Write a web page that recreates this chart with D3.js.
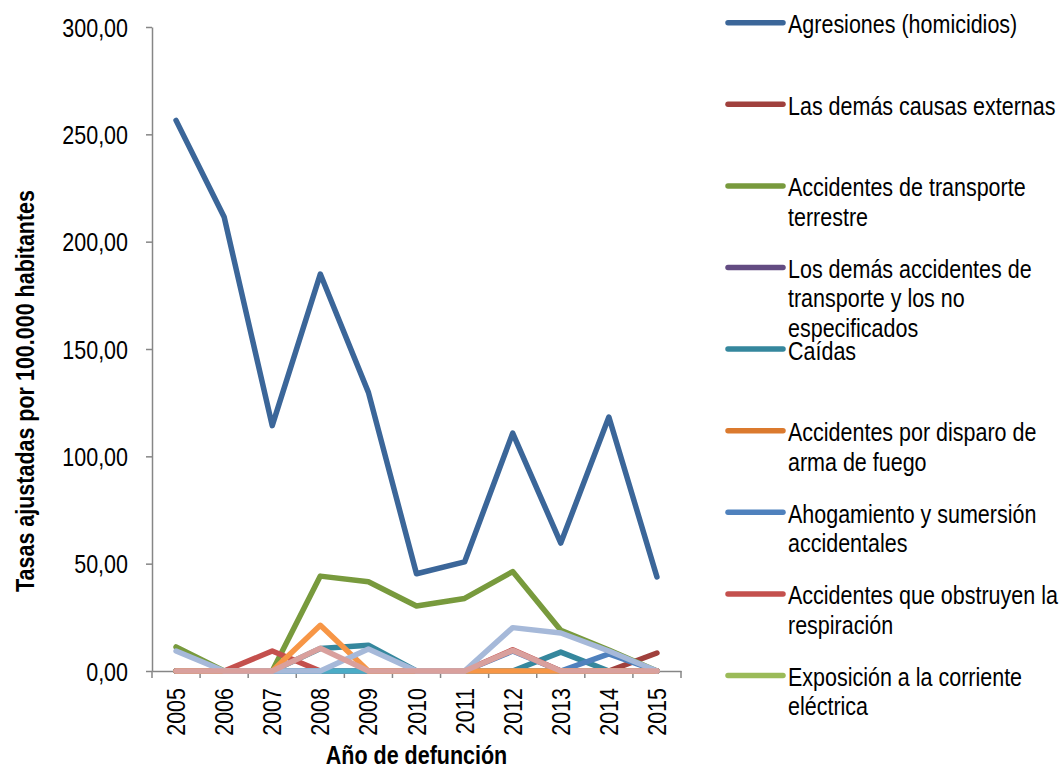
<!DOCTYPE html>
<html>
<head>
<meta charset="utf-8">
<script src="https://cdn.jsdelivr.net/npm/d3@7"></script>
<style>
  html, body { margin: 0; padding: 0; background: #ffffff; }
  svg { display: block; }
  text { font-family: "Liberation Sans", Arial, sans-serif; fill: #000; }
</style>
</head>
<body>
<script>
// ---------- DATA ----------
const years = ["2005","2006","2007","2008","2009","2010","2011","2012","2013","2014","2015"];
const yTicks = [0, 50, 100, 150, 200, 250, 300];

const seriesNames = [
  "Agresiones (homicidios)",
  "Las demás causas externas",
  "Accidentes de transporte terrestre",
  "Los demás accidentes de transporte y los no especificados",
  "Caídas",
  "Accidentes por disparo de arma de fuego",
  "Ahogamiento y sumersión accidentales",
  "Accidentes que obstruyen la respiración",
  "Exposición a la corriente eléctrica",
  "Exposición al humo, fuego y llamas",
  "Envenenamiento accidental por, y exposición a sustancias nocivas",
  "Los demás accidentes",
  "Lesiones autoinfligidas intencionalmente (suicidios)",
  "Eventos de intención no determinada"
];
// legend labels as wrapped in the reference (only the first 9 fit in the legend)
const legendLabels = [
  "Agresiones (homicidios)",
  "Las demás causas externas",
  "Accidentes de transporte\nterrestre",
  "Los demás accidentes de\ntransporte y los no\nespecificados",
  "Caídas",
  "Accidentes por disparo de\narma de fuego",
  "Ahogamiento y sumersión\naccidentales",
  "Accidentes que obstruyen la\nrespiración",
  "Exposición a la corriente\neléctrica"
];

const agresiones          = [256.5, 211.5, 114.3, 184.9, 129.8, 45.3, 50.8, 110.8, 59.6, 118.3, 43.8];
const demasCausas         = [0, 0, 0, 0, 0, 0, 0, 0, 0, 0, 8.4];
const transporteTerrestre = [11.2, 0, 0, 44.2, 41.6, 30.3, 33.8, 46.3, 19.0, 9.8, 0];
const demasTransporte     = [0, 0, 0, 0, 0, 0, 0, 0, 0, 0, 0];
const caidas              = [0, 0, 0, 10.5, 12.0, 0, 0, 0, 8.8, 0, 0];
const disparo             = [0, 0, 0, 0, 0, 0, 0, 0, 0, 0, 0];
const ahogamiento         = [0, 0, 0, 0, 0, 0, 0, 9.3, 0, 8.0, 0];
const obstruyen           = [0, 0, 9.3, 0, 0, 0, 0, 9.9, 0, 0, 0];
const electrica           = [0, 0, 0, 0, 0, 0, 0, 0, 0, 0, 0];
const humo                = [0, 0, 0, 0, 0, 0, 0, 0, 0, 0, 0];
const envenenamiento      = [0, 0, 0, 0, 0, 0, 0, 0, 0, 0, 0];
const demasAccidentes     = [0, 0, 0, 21.3, 0, 0, 0, 0, 0, 0, 0];
const suicidios           = [9.3, 0, 0, 0, 10.2, 0, 0, 20.2, 17.7, 9.3, 0];
const intencionNoDet      = [0, 0, 0, 10.6, 0, 0, 0, 9.6, 0, 0, 0];

const seriesValues = [agresiones, demasCausas, transporteTerrestre, demasTransporte, caidas,
  disparo, ahogamiento, obstruyen, electrica, humo, envenenamiento, demasAccidentes,
  suicidios, intencionNoDet];

const colors = ["#3B6699", "#A0403D", "#789A3D", "#634C82", "#35879D", "#DB7A2E",
  "#4F81BD", "#C4504D", "#9BBB59", "#8064A2", "#4BACC6", "#F79646", "#A6B9D9", "#D9A09D"];

// ---------- LAYOUT ----------
const W = 1064, H = 772;
const plot = { left: 152, right: 681, top: 27, bottom: 671 };
const SX = 0.86;     // narrow font compression
const FS = 25;       // font size

const svg = d3.select("body").append("svg").attr("width", W).attr("height", H);

const x = d3.scaleBand().domain(years).range([plot.left, plot.right]);
const y = d3.scaleLinear().domain([0, 300]).range([plot.bottom, plot.top]);
const cx = d => x(d) + x.bandwidth() / 2;

const locale = d3.formatLocale({ decimal: ",", thousands: ".", grouping: [3], currency: ["", ""] });
const fmt = locale.format(".2f");

const axisColor = "#868686";

// Y axis
const gy = svg.append("g").attr("transform", `translate(${plot.left},0)`)
  .call(d3.axisLeft(y).tickValues(yTicks).tickSizeInner(6).tickSizeOuter(0).tickFormat(fmt));
gy.select(".domain").attr("stroke", axisColor).attr("stroke-width", 1.5);
gy.selectAll(".tick line").attr("stroke", axisColor).attr("stroke-width", 1.5);
gy.selectAll(".tick text")
  .attr("x", null).attr("dy", null)
  .attr("font-size", FS).attr("font-family", "Liberation Sans, Arial, sans-serif")
  .attr("text-anchor", "end").attr("fill", "#000")
  .attr("transform", `translate(-24,9) scale(${SX},1)`);

// X axis (labels at category centres, ticks at category boundaries)
const gx = svg.append("g").attr("transform", `translate(0,${plot.bottom})`)
  .call(d3.axisBottom(x).tickSizeInner(0).tickSizeOuter(0));
gx.select(".domain").attr("stroke", axisColor).attr("stroke-width", 1.5);
gx.selectAll(".tick line").remove();
gx.selectAll(".tick text")
  .attr("y", null).attr("dy", null)
  .attr("font-size", FS).attr("font-family", "Liberation Sans, Arial, sans-serif")
  .attr("text-anchor", "end").attr("fill", "#000")
  .attr("transform", `translate(9,17) rotate(-90) scale(${SX},1)`);
const boundaries = years.map(d => x(d)).concat([x(years[years.length - 1]) + x.step()]);
gx.selectAll(".bt").data(boundaries).join("line").attr("class", "bt")
  .attr("x1", d => d).attr("x2", d => d).attr("y1", 0).attr("y2", 7)
  .attr("stroke", axisColor).attr("stroke-width", 1.5);

// Axis titles
svg.append("text")
  .attr("transform", `translate(${(plot.left + plot.right) / 2},764) scale(${SX},1)`)
  .attr("text-anchor", "middle").attr("font-weight", "bold").attr("font-size", FS)
  .text("Año de defunción");
svg.append("text")
  .attr("transform", `translate(34,391) rotate(-90) scale(${SX},1)`)
  .attr("text-anchor", "middle").attr("font-weight", "bold").attr("font-size", FS)
  .text("Tasas ajustadas por 100.000 habitantes");

// Lines
const line = d3.line().x((d, i) => cx(years[i])).y(d => y(d));
svg.append("g").selectAll("path").data(seriesValues).join("path")
  .attr("d", d => line(d))
  .attr("fill", "none")
  .attr("stroke", (d, i) => colors[i])
  .attr("stroke-width", 5.5)
  .attr("stroke-linejoin", "round")
  .attr("stroke-linecap", "round");

// Legend (only first 9 entries visible)
const legTop = 22.7, legStep = 81.6;
const leg = svg.append("g");
legendLabels.forEach((lab, i) => {
  const yy = legTop + i * legStep;
  leg.append("line").attr("x1", 728).attr("x2", 783).attr("y1", yy).attr("y2", yy)
    .attr("stroke", colors[i]).attr("stroke-width", 5.5).attr("stroke-linecap", "round");
  const t = leg.append("text")
    .attr("transform", `translate(788,${yy + 10.5}) scale(${SX},1)`)
    .attr("font-size", FS);
  lab.split("\n").forEach((ln, j) => {
    t.append("tspan").attr("x", 0).attr("y", j * 29.5).text(ln);
  });
});
</script>
</body>
</html>
